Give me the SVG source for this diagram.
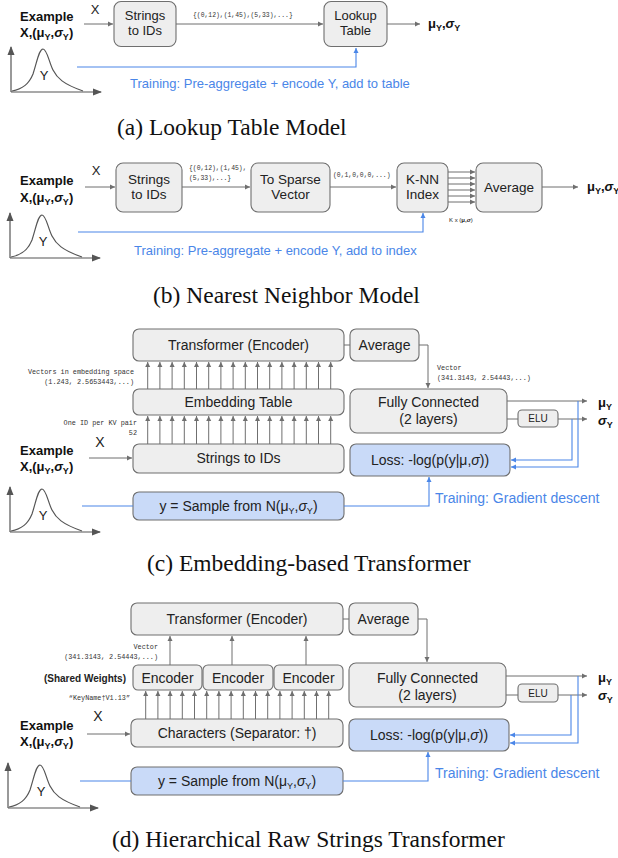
<svg xmlns="http://www.w3.org/2000/svg" xmlns:xlink="http://www.w3.org/1999/xlink" width="618" height="858" viewBox="0 0 618 858">
<style>
.box{fill:#eeeeee;stroke:#6f6f6f;stroke-width:1.1}
.bbox{fill:#c9daf8;stroke:#6f6f6f;stroke-width:1.1}
.t{font-family:"Liberation Sans",Arial,sans-serif;fill:#222;text-anchor:middle}
.s13{font-size:13px}.s14{font-size:14px}
.ex{font-family:"Liberation Sans",Arial,sans-serif;font-weight:bold;font-size:13px;fill:#111}
.sub{font-size:9px}
.sig{font-style:italic}
.mono{font-family:"Liberation Mono","DejaVu Sans Mono",monospace;fill:#333}
.ln{fill:none;stroke:#6f6f6f;stroke-width:1}
.bl{fill:none;stroke:#4a86e8;stroke-width:1.1}
.tr{font-family:"Liberation Sans",Arial,sans-serif;fill:#4a86e8}
.cap{font-family:"Liberation Serif","Times New Roman",serif;font-size:23.5px;fill:#111}
.ax{fill:none;stroke:#555;stroke-width:1.2}
</style>
<defs>
<marker id="ag" markerUnits="userSpaceOnUse" markerWidth="6" markerHeight="6" refX="5" refY="3" orient="auto"><path d="M0,0.5 L5,3 L0,5.5 z" fill="#6f6f6f"/></marker>
<marker id="ab" markerUnits="userSpaceOnUse" markerWidth="6" markerHeight="6" refX="5" refY="3" orient="auto"><path d="M0,0.5 L5,3 L0,5.5 z" fill="#4a86e8"/></marker>
<marker id="aa" markerUnits="userSpaceOnUse" markerWidth="10" markerHeight="8" refX="8" refY="4" orient="auto"><path d="M0,0.5 L9,4 L0,7.5 z" fill="#555"/></marker>
<g id="curve">
<path class="ax" d="M0,0 V-45" marker-end="url(#aa)"/>
<path class="ax" d="M0,0 H90" marker-end="url(#aa)"/>
<path class="ax" d="M1,-1 C12,-3 18,-8 22,-18 C26,-30 28,-43 32,-43 C36,-43 38,-30 42,-22 C46,-14 52,-8 72,-1"/>
<text class="t s13" x="33" y="-12">Y</text>
</g>
</defs>

<!-- ===== Panel (a) ===== -->
<g id="a-example">
<text class="ex" x="20" y="21">Example</text>
<text class="ex" x="20" y="37">X,(μ<tspan class="sub" dy="3">Y</tspan><tspan dy="-3">,</tspan><tspan class="sig">σ</tspan><tspan class="sub" dy="3">Y</tspan><tspan dy="-3">)</tspan></text>
<use xlink:href="#curve" transform="translate(11,92)"/>
</g>
<g id="a-strings"><rect class="box" x="114" y="1.5" width="62" height="45" rx="7"/><text class="t s13" x="145" y="20">Strings</text><text class="t s13" x="145" y="35">to IDs</text></g>
<g id="a-lookup"><rect class="box" x="324" y="1.5" width="63" height="45" rx="7"/><text class="t s13" x="355.5" y="20">Lookup</text><text class="t s13" x="355.5" y="35">Table</text></g>
<g id="a-out"><text class="ex" x="428" y="28">μ<tspan class="sub" dy="3">Y</tspan><tspan dy="-3">,</tspan><tspan class="sig">σ</tspan><tspan class="sub" dy="3">Y</tspan></text></g>
<g id="a-connectors">
<path class="ln" d="M84,24 H113" marker-end="url(#ag)"/>
<path class="ln" d="M176,24 H323" marker-end="url(#ag)"/>
<path class="ln" d="M387,24 H420" marker-end="url(#ag)"/>
<path class="bl" d="M77,67 H356 V48" marker-end="url(#ab)"/>
<text class="t s13" x="95" y="14">X</text>
<text class="mono" x="193" y="17" font-size="6.4">{(0,12),(1,45),(5,33),...}</text>
<text class="tr" x="130" y="88" font-size="13">Training: Pre-aggregate + encode Y, add to table</text>
</g>
<text class="cap" x="117" y="135">(a) Lookup Table Model</text>

<!-- ===== Panel (b) ===== -->
<g id="b-example">
<text class="ex" x="20" y="185">Example</text>
<text class="ex" x="20" y="202">X,(μ<tspan class="sub" dy="3">Y</tspan><tspan dy="-3">,</tspan><tspan class="sig">σ</tspan><tspan class="sub" dy="3">Y</tspan><tspan dy="-3">)</tspan></text>
<use xlink:href="#curve" transform="translate(10,258)"/>
</g>
<g id="b-strings"><rect class="box" x="116" y="163" width="66" height="49" rx="7"/><text class="t" font-size="13.5" x="149" y="184">Strings</text><text class="t" font-size="13.5" x="149" y="199">to IDs</text></g>
<g id="b-sparse"><rect class="box" x="251" y="163" width="79" height="49" rx="7"/><text class="t" font-size="13.5" x="290.5" y="184">To Sparse</text><text class="t" font-size="13.5" x="290.5" y="199">Vector</text></g>
<g id="b-knn"><rect class="box" x="397" y="163" width="51" height="49" rx="7"/><text class="t" font-size="13.5" x="422.5" y="184">K-NN</text><text class="t" font-size="13.5" x="422.5" y="199">Index</text></g>
<g id="b-average"><rect class="box" x="476" y="163" width="66" height="49" rx="7"/><text class="t" font-size="13.5" x="509" y="192">Average</text></g>
<g id="b-out"><text class="ex" x="587" y="191">μ<tspan class="sub" dy="3">Y</tspan><tspan dy="-3">,</tspan><tspan class="sig">σ</tspan><tspan class="sub" dy="3">Y</tspan></text></g>
<g id="b-connectors">
<path class="ln" d="M85,187 H115" marker-end="url(#ag)"/>
<path class="ln" d="M182,187 H250" marker-end="url(#ag)"/>
<path class="ln" d="M330,187 H396" marker-end="url(#ag)"/>
<path class="ln" d="M448,172 H475" marker-end="url(#ag)"/>
<path class="ln" d="M448,178 H475" marker-end="url(#ag)"/>
<path class="ln" d="M448,184 H475" marker-end="url(#ag)"/>
<path class="ln" d="M448,190 H475" marker-end="url(#ag)"/>
<path class="ln" d="M448,196 H475" marker-end="url(#ag)"/>
<path class="ln" d="M448,202 H475" marker-end="url(#ag)"/>
<path class="ln" d="M542,187 H578" marker-end="url(#ag)"/>
<path class="bl" d="M78,232 H423 V213" marker-end="url(#ab)"/>
<text class="t s13" x="96" y="175">X</text>
<text class="mono" x="189" y="170" font-size="6.4">{(0,12),(1,45),</text>
<text class="mono" x="189" y="180" font-size="6.4">(5,33),...}</text>
<text class="mono" x="333" y="177" font-size="6.4">(0,1,0,0,0,...)</text>
<text x="449" y="222" font-family="Liberation Sans, Arial, sans-serif" font-size="6" fill="#222">K x (<tspan font-weight="bold">μ,<tspan font-style="italic">σ</tspan></tspan>)</text>
<text class="tr" x="134" y="255" font-size="13">Training: Pre-aggregate + encode Y, add to index</text>
</g>
<text class="cap" x="153" y="303">(b) Nearest Neighbor Model</text>

<!-- ===== Panel (c) ===== -->
<g id="c-example">
<text class="ex" x="20" y="455">Example</text>
<text class="ex" x="20" y="471">X,(μ<tspan class="sub" dy="3">Y</tspan><tspan dy="-3">,</tspan><tspan class="sig">σ</tspan><tspan class="sub" dy="3">Y</tspan><tspan dy="-3">)</tspan></text>
<use xlink:href="#curve" transform="translate(10,532)"/>
</g>
<g id="c-transformer"><rect class="box" x="133" y="329" width="211" height="32" rx="6"/><text class="t s14" x="238.5" y="350">Transformer (Encoder)</text></g>
<g id="c-embedding"><rect class="box" x="133" y="389" width="211" height="26" rx="6"/><text class="t s14" x="238.5" y="407">Embedding Table</text></g>
<g id="c-strings"><rect class="box" x="133" y="444" width="211" height="29" rx="6"/><text class="t s14" x="238.5" y="463">Strings to IDs</text></g>
<g id="c-sample"><rect class="bbox" x="133" y="492" width="211" height="28" rx="6"/><text class="t s14" x="238.5" y="511">y = Sample from N(μ<tspan class="sub" dy="3">Y</tspan><tspan dy="-3">,</tspan><tspan class="sig">σ</tspan><tspan class="sub" dy="3">Y</tspan><tspan dy="-3">)</tspan></text></g>
<g id="c-average"><rect class="box" x="350" y="329" width="69" height="32" rx="6"/><text class="t s14" x="384.5" y="350">Average</text></g>
<g id="c-fc"><rect class="box" x="350" y="389" width="157" height="44" rx="7"/><text class="t s14" x="428.5" y="407">Fully Connected</text><text class="t s14" x="428.5" y="424">(2 layers)</text></g>
<g id="c-elu"><rect class="box" x="518" y="410" width="40" height="17" rx="4"/><text class="t" font-size="10" x="538" y="422">ELU</text></g>
<g id="c-loss"><rect class="bbox" x="350" y="444" width="160" height="32" rx="6"/><text class="t s14" x="430" y="465">Loss: -log(p(y|μ,<tspan class="sig">σ</tspan>))</text></g>
<g id="c-outputs">
<text class="ex" x="598" y="407">μ<tspan class="sub" dy="3">Y</tspan></text>
<text class="ex" x="598" y="425"><tspan class="sig">σ</tspan><tspan class="sub" dy="3">Y</tspan></text>
</g>
<g id="c-connectors">
<path class="ln" d="M89,458 H132" marker-end="url(#ag)"/>
<path class="ln" d="M147.7,389 V362" marker-end="url(#ag)"/><path class="ln" d="M159.9,389 V362" marker-end="url(#ag)"/><path class="ln" d="M172.1,389 V362" marker-end="url(#ag)"/><path class="ln" d="M184.3,389 V362" marker-end="url(#ag)"/><path class="ln" d="M196.5,389 V362" marker-end="url(#ag)"/><path class="ln" d="M208.7,389 V362" marker-end="url(#ag)"/><path class="ln" d="M220.9,389 V362" marker-end="url(#ag)"/><path class="ln" d="M233.1,389 V362" marker-end="url(#ag)"/><path class="ln" d="M245.3,389 V362" marker-end="url(#ag)"/><path class="ln" d="M257.5,389 V362" marker-end="url(#ag)"/><path class="ln" d="M269.7,389 V362" marker-end="url(#ag)"/><path class="ln" d="M281.9,389 V362" marker-end="url(#ag)"/><path class="ln" d="M294.1,389 V362" marker-end="url(#ag)"/><path class="ln" d="M306.3,389 V362" marker-end="url(#ag)"/><path class="ln" d="M318.5,389 V362" marker-end="url(#ag)"/><path class="ln" d="M330.7,389 V362" marker-end="url(#ag)"/>
<path class="ln" d="M147.7,444 V416" marker-end="url(#ag)"/><path class="ln" d="M159.9,444 V416" marker-end="url(#ag)"/><path class="ln" d="M172.1,444 V416" marker-end="url(#ag)"/><path class="ln" d="M184.3,444 V416" marker-end="url(#ag)"/><path class="ln" d="M196.5,444 V416" marker-end="url(#ag)"/><path class="ln" d="M208.7,444 V416" marker-end="url(#ag)"/><path class="ln" d="M220.9,444 V416" marker-end="url(#ag)"/><path class="ln" d="M233.1,444 V416" marker-end="url(#ag)"/><path class="ln" d="M245.3,444 V416" marker-end="url(#ag)"/><path class="ln" d="M257.5,444 V416" marker-end="url(#ag)"/><path class="ln" d="M269.7,444 V416" marker-end="url(#ag)"/><path class="ln" d="M281.9,444 V416" marker-end="url(#ag)"/><path class="ln" d="M294.1,444 V416" marker-end="url(#ag)"/><path class="ln" d="M306.3,444 V416" marker-end="url(#ag)"/><path class="ln" d="M318.5,444 V416" marker-end="url(#ag)"/><path class="ln" d="M330.7,444 V416" marker-end="url(#ag)"/>
<path class="ln" d="M344,345 H350"/>
<path class="ln" d="M419,345 H428 V388" marker-end="url(#ag)"/>
<path class="ln" d="M507,401 H587" marker-end="url(#ag)"/>
<path class="ln" d="M507,419 H518"/>
<path class="ln" d="M558,419 H587" marker-end="url(#ag)"/>
<path class="bl" d="M578,401 V467 H511" marker-end="url(#ab)"/>
<path class="bl" d="M572,419 V460 H511" marker-end="url(#ab)"/>
<path class="bl" d="M82,506 H133"/>
<path class="bl" d="M344,506 H429 V477" marker-end="url(#ab)"/>
<text class="t s14" x="100" y="447">X</text>
<text class="mono" x="134" y="374" font-size="6.8" text-anchor="end">Vectors in embedding space</text>
<text class="mono" x="134" y="384" font-size="6.8" text-anchor="end">(1.243, 2.5653443,...)</text>
<text class="mono" x="137" y="425" font-size="6.8" text-anchor="end">One ID per KV pair</text>
<text class="mono" x="137" y="435" font-size="6.8" text-anchor="end">52</text>
<text class="mono" x="437" y="370" font-size="6.8">Vector</text>
<text class="mono" x="437" y="380" font-size="6.8">(341.3143, 2.54443,...)</text>
<text class="tr" x="435" y="503" font-size="14">Training: Gradient descent</text>
</g>
<text class="cap" x="147" y="571">(c) Embedding-based Transformer</text>

<!-- ===== Panel (d) ===== -->
<g id="d-example">
<text class="ex" x="20" y="730">Example</text>
<text class="ex" x="20" y="746">X,(μ<tspan class="sub" dy="3">Y</tspan><tspan dy="-3">,</tspan><tspan class="sig">σ</tspan><tspan class="sub" dy="3">Y</tspan><tspan dy="-3">)</tspan></text>
<use xlink:href="#curve" transform="translate(8,808)"/>
</g>
<g id="d-transformer"><rect class="box" x="131" y="603" width="212" height="32" rx="6"/><text class="t s14" x="237" y="624">Transformer (Encoder)</text></g>
<g id="d-enc1"><rect class="box" x="133" y="665" width="69" height="25" rx="5"/><text class="t s14" x="167.5" y="683">Encoder</text></g>
<g id="d-enc2"><rect class="box" x="203" y="665" width="70" height="25" rx="5"/><text class="t s14" x="238" y="683">Encoder</text></g>
<g id="d-enc3"><rect class="box" x="274" y="665" width="69" height="25" rx="5"/><text class="t s14" x="308.5" y="683">Encoder</text></g>
<g id="d-chars"><rect class="box" x="131" y="719" width="212" height="28" rx="6"/><text class="t s14" x="237" y="738">Characters (Separator: †)</text></g>
<g id="d-sample"><rect class="bbox" x="131" y="767" width="212" height="28" rx="6"/><text class="t s14" x="237" y="786">y = Sample from N(μ<tspan class="sub" dy="3">Y</tspan><tspan dy="-3">,</tspan><tspan class="sig">σ</tspan><tspan class="sub" dy="3">Y</tspan><tspan dy="-3">)</tspan></text></g>
<g id="d-average"><rect class="box" x="349" y="603" width="69" height="32" rx="6"/><text class="t s14" x="383.5" y="624">Average</text></g>
<g id="d-fc"><rect class="box" x="349" y="663" width="157" height="44" rx="7"/><text class="t s14" x="427.5" y="683">Fully Connected</text><text class="t s14" x="427.5" y="700">(2 layers)</text></g>
<g id="d-elu"><rect class="box" x="518" y="684" width="40" height="18" rx="4"/><text class="t" font-size="10" x="538" y="697">ELU</text></g>
<g id="d-loss"><rect class="bbox" x="349" y="719" width="160" height="32" rx="6"/><text class="t s14" x="429" y="740">Loss: -log(p(y|μ,<tspan class="sig">σ</tspan>))</text></g>
<g id="d-outputs">
<text class="ex" x="598" y="682">μ<tspan class="sub" dy="3">Y</tspan></text>
<text class="ex" x="598" y="700"><tspan class="sig">σ</tspan><tspan class="sub" dy="3">Y</tspan></text>
</g>
<g id="d-connectors">
<path class="ln" d="M87,734 H130" marker-end="url(#ag)"/>
<path class="ln" d="M170,665 V636" marker-end="url(#ag)"/>
<path class="ln" d="M232,665 V636" marker-end="url(#ag)"/>
<path class="ln" d="M306,665 V636" marker-end="url(#ag)"/>
<path class="ln" d="M145.7,719 V691" marker-end="url(#ag)"/><path class="ln" d="M157.9,719 V691" marker-end="url(#ag)"/><path class="ln" d="M170.1,719 V691" marker-end="url(#ag)"/><path class="ln" d="M182.3,719 V691" marker-end="url(#ag)"/><path class="ln" d="M194.5,719 V691" marker-end="url(#ag)"/><path class="ln" d="M206.7,719 V691" marker-end="url(#ag)"/><path class="ln" d="M218.9,719 V691" marker-end="url(#ag)"/><path class="ln" d="M231.1,719 V691" marker-end="url(#ag)"/><path class="ln" d="M243.3,719 V691" marker-end="url(#ag)"/><path class="ln" d="M255.5,719 V691" marker-end="url(#ag)"/><path class="ln" d="M267.7,719 V691" marker-end="url(#ag)"/><path class="ln" d="M279.9,719 V691" marker-end="url(#ag)"/><path class="ln" d="M292.1,719 V691" marker-end="url(#ag)"/><path class="ln" d="M304.3,719 V691" marker-end="url(#ag)"/><path class="ln" d="M316.5,719 V691" marker-end="url(#ag)"/><path class="ln" d="M328.7,719 V691" marker-end="url(#ag)"/>
<path class="ln" d="M343,619 H349"/>
<path class="ln" d="M418,619 H427 V662" marker-end="url(#ag)"/>
<path class="ln" d="M506,676 H587" marker-end="url(#ag)"/>
<path class="ln" d="M506,695 H518"/>
<path class="ln" d="M558,695 H587" marker-end="url(#ag)"/>
<path class="bl" d="M578,676 V743 H510" marker-end="url(#ab)"/>
<path class="bl" d="M571,695 V735 H510" marker-end="url(#ab)"/>
<path class="bl" d="M80,781 H131"/>
<path class="bl" d="M343,781 H428 V752" marker-end="url(#ab)"/>
<text class="t s14" x="98" y="721">X</text>
<text class="mono" x="158" y="649" font-size="6.8" text-anchor="end">Vector</text>
<text class="mono" x="158" y="659" font-size="6.8" text-anchor="end">(341.3143, 2.54443,...)</text>
<text x="126" y="682" font-family="Liberation Sans, Arial, sans-serif" font-weight="bold" font-size="10" fill="#222" text-anchor="end">(Shared Weights)</text>
<text class="mono" x="130" y="700" font-size="6.8" text-anchor="end">“KeyName†V1.13”</text>
<text class="tr" x="435" y="778" font-size="14">Training: Gradient descent</text>
</g>
<text class="cap" x="112" y="847">(d) Hierarchical Raw Strings Transformer</text>
</svg>
